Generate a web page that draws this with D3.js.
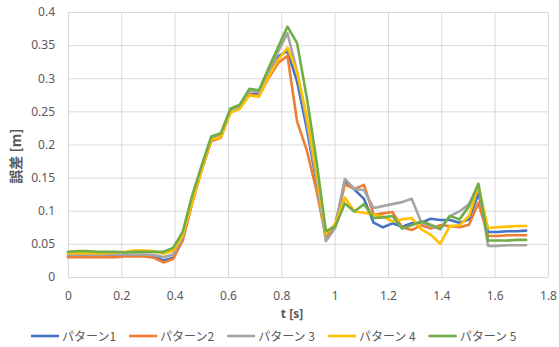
<!DOCTYPE html>
<html>
<head>
<meta charset="utf-8">
<script src="https://cdn.jsdelivr.net/npm/d3@7"></script>
<style>
  html, body { margin: 0; padding: 0; background: #fff; }
  svg { display: block; }
  text { font-family: "Noto Sans", "Noto Sans CJK JP", sans-serif; fill: #595959; }
</style>
</head>
<body>
<svg id="chart" width="559" height="347"></svg>
<script>
// Sample times [s]
const times = [
  0, 0.036, 0.072, 0.107, 0.143, 0.179, 0.215, 0.251, 0.286, 0.322,
  0.358, 0.394, 0.430, 0.465, 0.501, 0.537, 0.573, 0.609, 0.644, 0.680,
  0.716, 0.752, 0.788, 0.823, 0.859, 0.895, 0.931, 0.967, 1.002, 1.038,
  1.074, 1.110, 1.146, 1.181, 1.217, 1.253, 1.289, 1.325, 1.360, 1.396,
  1.432, 1.468, 1.504, 1.539, 1.575, 1.611, 1.647, 1.683, 1.718
];

// Error [m] for each pattern
const pattern1 = [
  0.031, 0.031, 0.031, 0.031, 0.031, 0.032, 0.032, 0.032, 0.032, 0.031,
  0.025, 0.029, 0.058, 0.114, 0.163, 0.206, 0.211, 0.249, 0.255, 0.276,
  0.276, 0.305, 0.333, 0.341, 0.295, 0.225, 0.145, 0.062, 0.078, 0.144,
  0.132, 0.118, 0.082, 0.075, 0.081, 0.076, 0.081, 0.082, 0.088, 0.086,
  0.086, 0.082, 0.087, 0.126, 0.068, 0.068, 0.069, 0.069, 0.070
];
const pattern2 = [
  0.030, 0.030, 0.030, 0.030, 0.030, 0.030, 0.031, 0.031, 0.031, 0.029,
  0.022, 0.027, 0.055, 0.110, 0.161, 0.205, 0.210, 0.249, 0.255, 0.276,
  0.273, 0.300, 0.323, 0.334, 0.235, 0.192, 0.132, 0.060, 0.077, 0.140,
  0.133, 0.139, 0.094, 0.096, 0.098, 0.075, 0.071, 0.078, 0.073, 0.078,
  0.077, 0.075, 0.079, 0.112, 0.062, 0.062, 0.063, 0.063, 0.063
];
const pattern3 = [
  0.034, 0.034, 0.034, 0.034, 0.034, 0.034, 0.034, 0.034, 0.034, 0.033,
  0.030, 0.034, 0.060, 0.117, 0.165, 0.209, 0.214, 0.251, 0.257, 0.281,
  0.279, 0.308, 0.340, 0.368, 0.310, 0.235, 0.150, 0.054, 0.074, 0.148,
  0.133, 0.131, 0.104, 0.107, 0.110, 0.113, 0.118, 0.082, 0.077, 0.072,
  0.092, 0.099, 0.110, 0.139, 0.047, 0.047, 0.048, 0.048, 0.048
];
const pattern4 = [
  0.036, 0.036, 0.036, 0.036, 0.036, 0.037, 0.038, 0.040, 0.040, 0.039,
  0.035, 0.040, 0.063, 0.112, 0.162, 0.207, 0.211, 0.248, 0.254, 0.274,
  0.272, 0.302, 0.328, 0.346, 0.310, 0.243, 0.162, 0.065, 0.080, 0.120,
  0.099, 0.097, 0.094, 0.091, 0.084, 0.087, 0.089, 0.072, 0.064, 0.050,
  0.077, 0.078, 0.092, 0.137, 0.074, 0.075, 0.076, 0.077, 0.077
];
const pattern5 = [
  0.038, 0.039, 0.039, 0.038, 0.038, 0.038, 0.037, 0.038, 0.038, 0.038,
  0.038, 0.044, 0.068, 0.122, 0.168, 0.212, 0.217, 0.254, 0.260, 0.284,
  0.282, 0.315, 0.347, 0.378, 0.353, 0.272, 0.178, 0.069, 0.076, 0.111,
  0.099, 0.110, 0.089, 0.090, 0.092, 0.073, 0.078, 0.084, 0.079, 0.073,
  0.092, 0.087, 0.107, 0.141, 0.055, 0.055, 0.055, 0.056, 0.056
];

const seriesNames = ["パターン1", "パターン2", "パターン 3", "パターン 4", "パターン 5"];
const seriesColors = ["#4472C4", "#ED7D31", "#A5A5A5", "#FFC000", "#70AD47"];
const seriesValues = [pattern1, pattern2, pattern3, pattern4, pattern5];

const xTicks = [0, 0.2, 0.4, 0.6, 0.8, 1, 1.2, 1.4, 1.6, 1.8];
const yTicks = [0, 0.05, 0.1, 0.15, 0.2, 0.25, 0.3, 0.35, 0.4];

const svg = d3.select("#chart");
const plotLeft = 68, plotRight = 548, plotTop = 12, plotBottom = 277;

const x = d3.scaleLinear().domain([0, 1.8]).range([plotLeft, plotRight]);
const y = d3.scaleLinear().domain([0, 0.4]).range([plotBottom, plotTop]);

// Gridlines + tick labels
const yAxis = svg.append("g")
  .attr("transform", `translate(${plotLeft},0)`)
  .call(d3.axisLeft(y).tickValues(yTicks).tickFormat(d3.format("")).tickSize(-(plotRight - plotLeft)).tickPadding(13));
const xAxis = svg.append("g")
  .attr("transform", `translate(0,${plotBottom})`)
  .call(d3.axisBottom(x).tickValues(xTicks).tickFormat(d3.format("")).tickSize(-(plotBottom - plotTop)).tickPadding(14));

[xAxis, yAxis].forEach(g => {
  g.select(".domain").remove();
  g.selectAll(".tick line").attr("stroke", "#D9D9D9").attr("stroke-width", 1);
  g.selectAll(".tick text").attr("fill", "#595959").style("font-size", "12px")
    .style("font-family", "'Noto Sans', sans-serif");
});

// Series lines
const line = d3.line()
  .x((d, i) => x(times[i]))
  .y(d => y(d));

seriesValues.forEach((vals, k) => {
  svg.append("path")
    .datum(vals)
    .attr("fill", "none")
    .attr("stroke", seriesColors[k])
    .attr("stroke-width", 2.6)
    .attr("stroke-linejoin", "round")
    .attr("stroke-linecap", "round")
    .attr("d", line);
});

// Axis titles
svg.append("text")
  .attr("x", 292).attr("y", 318)
  .attr("text-anchor", "middle")
  .style("font-size", "12px").style("font-weight", "bold")
  .text("t [s]");

svg.append("text")
  .attr("transform", "translate(21,156) rotate(-90)")
  .attr("text-anchor", "middle")
  .style("font-size", "14px").style("font-weight", "bold")
  .style("font-family", "'Noto Sans CJK JP', 'Noto Sans', sans-serif")
  .text("誤差 [m]");

// Legend
const legend = svg.append("g").attr("transform", "translate(31,336)");
let lx = 0;
seriesNames.forEach((name, k) => {
  const item = legend.append("g").attr("transform", `translate(${lx},0)`);
  item.append("line")
    .attr("x1", 0).attr("x2", 28).attr("y1", 0).attr("y2", 0)
    .attr("stroke", seriesColors[k]).attr("stroke-width", 2.6);
  const t = item.append("text")
    .attr("x", 31).attr("y", 4.5)
    .style("font-size", "12px")
    .style("font-family", "'Noto Sans CJK JP', sans-serif")
    .text(name);
  lx += 31 + t.node().getComputedTextLength() + 13;
});
</script>
</body>
</html>
